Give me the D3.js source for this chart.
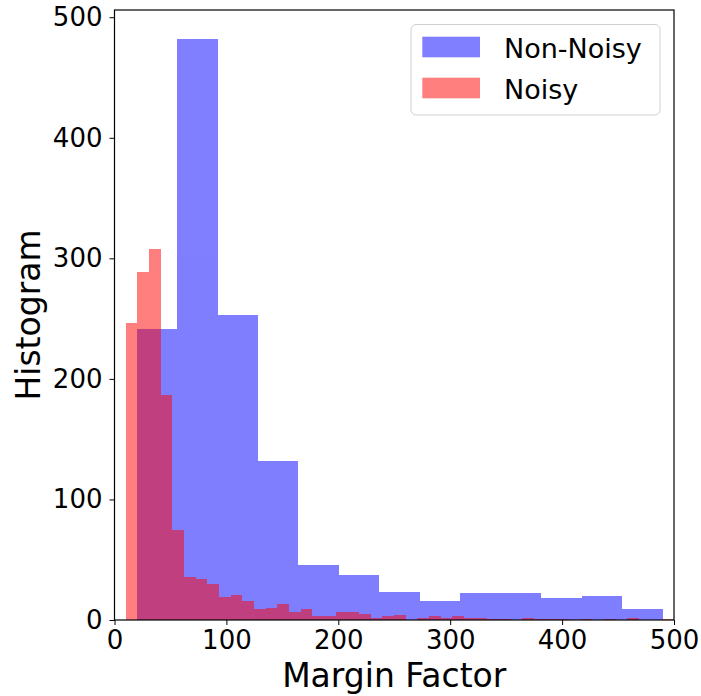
<!DOCTYPE html>
<html>
<head>
<meta charset="utf-8">
<script src="https://cdn.jsdelivr.net/npm/d3@7"></script>
<style>
  html, body { margin: 0; padding: 0; background: #fff; }
  svg { display: block; font-family: "DejaVu Sans", sans-serif; }
</style>
</head>
<body>
<svg id="chart" width="701" height="696"></svg>
<script>
// ---- data ----
const seriesNames = ["Non-Noisy", "Noisy"];

// Non-Noisy histogram: bin edges and counts
const nonNoisyEdges = [19.7, 55.9, 92.1, 128.2, 164.4, 200.6, 236.8, 273.0, 309.1, 345.3, 381.5, 417.7, 453.9, 490.0];
const nonNoisyCounts = [241, 482, 253, 132, 46, 37, 23, 16, 22, 22, 18, 20, 9];

// Noisy histogram: bin edges and counts
const noisyEdges = [10.0, 20.4, 30.9, 41.3, 51.7, 62.1, 72.6, 83.0, 93.4, 103.8,
  114.3, 124.7, 135.1, 145.5, 156.0, 166.4, 176.8, 187.2, 197.7, 208.1,
  218.5, 229.0, 239.4, 249.8, 260.2, 270.7, 281.1, 291.5, 301.9, 312.4,
  322.8, 333.2, 343.6, 354.1, 364.5, 374.9, 385.3, 395.8, 406.2, 416.6,
  427.0, 437.5, 447.9, 458.3, 468.7, 479.2, 489.6, 500.0];
const noisyCounts = [246, 289, 308, 187, 75, 36, 34, 30, 19, 21,
  16, 9, 10, 13, 7, 9, 3, 3, 7, 7,
  5, 2, 3, 4, 0, 2, 3, 2, 3, 2,
  2, 1, 1, 0, 2, 1, 1, 1, 0, 1,
  0, 1, 0, 2, 0, 0, 1];

const xTicks = [0, 100, 200, 300, 400, 500];
const yTicks = [0, 100, 200, 300, 400, 500];
const xDomain = [0, 500];
const yDomain = [0, 506];
const xLabel = "Margin Factor";
const yLabel = "Histogram";

(function () {
  // ---- layout ----
  const pL = 114.5, pR = 674, pT = 10, pB = 620;
  const svg = d3.select("#chart");

  const x = d3.scaleLinear().domain(xDomain).range([pL, pR]);
  const y = d3.scaleLinear().domain(yDomain).range([pB, pT]);

  function toBins(edges, counts) {
    return counts.map((c, i) => ({ x0: edges[i], x1: edges[i + 1], c }));
  }

  const colors = ["blue", "red"];
  const datasets = [toBins(nonNoisyEdges, nonNoisyCounts), toBins(noisyEdges, noisyCounts)];

  svg.append("clipPath").attr("id", "plotclip")
    .append("rect").attr("x", pL).attr("y", pT)
    .attr("width", pR - pL).attr("height", pB - pT);

  const plot = svg.append("g").attr("clip-path", "url(#plotclip)");
  datasets.forEach((bins, si) => {
    plot.append("g")
      .attr("opacity", 0.5)
      .selectAll("rect")
      .data(bins.filter(b => b.c > 0))
      .join("rect")
      .attr("shape-rendering", "crispEdges")
      .attr("x", d => x(d.x0))
      .attr("width", d => x(d.x1) - x(d.x0))
      .attr("y", d => y(d.c))
      .attr("height", d => y(0) - y(d.c))
      .attr("fill", colors[si]);
  });

  // ---- axes ----
  const xAxis = svg.append("g")
    .attr("transform", `translate(0,${pB})`)
    .call(d3.axisBottom(x).tickValues(xTicks).tickSize(5).tickPadding(6).tickSizeOuter(0));
  const yAxis = svg.append("g")
    .attr("transform", `translate(${pL},0)`)
    .call(d3.axisLeft(y).tickValues(yTicks).tickSize(5).tickPadding(7).tickSizeOuter(0));

  [xAxis, yAxis].forEach(a => {
    a.select(".domain").remove();
    a.selectAll(".tick line").attr("stroke", "#000").attr("stroke-width", 1);
    a.selectAll(".tick text")
      .attr("fill", "#000")
      .style("font-family", "'DejaVu Sans', sans-serif")
      .style("font-size", "26px");
  });

  // spines
  svg.append("rect")
    .attr("x", pL).attr("y", pT)
    .attr("width", pR - pL).attr("height", pB - pT)
    .attr("fill", "none").attr("stroke", "#000").attr("stroke-width", 1.2);

  // axis labels
  svg.append("text")
    .attr("x", (pL + pR) / 2).attr("y", 687)
    .attr("text-anchor", "middle")
    .style("font-size", "33px")
    .attr("fill", "#000")
    .text(xLabel);

  svg.append("text")
    .attr("transform", `translate(40,${(pT + pB) / 2}) rotate(-90)`)
    .attr("text-anchor", "middle")
    .style("font-size", "33px")
    .attr("fill", "#000")
    .text(yLabel);

  // legend
  const lg = svg.append("g");
  lg.append("rect")
    .attr("x", 411).attr("y", 24.5).attr("width", 249).attr("height", 90.5)
    .attr("rx", 5).attr("ry", 5)
    .attr("fill", "#fff").attr("fill-opacity", 0.8)
    .attr("stroke", "#d0d0d0").attr("stroke-width", 1);
  seriesNames.forEach((name, i) => {
    const yy = 36.7 + i * 41;
    lg.append("rect")
      .attr("x", 422.3).attr("y", yy).attr("width", 57.7).attr("height", 20.6)
      .attr("fill", colors[i]).attr("fill-opacity", 0.5);
    lg.append("text")
      .attr("x", 504).attr("y", yy + 21.5)
      .style("font-size", "27px")
      .attr("fill", "#000")
      .text(name);
  });
})();
</script>
</body>
</html>
